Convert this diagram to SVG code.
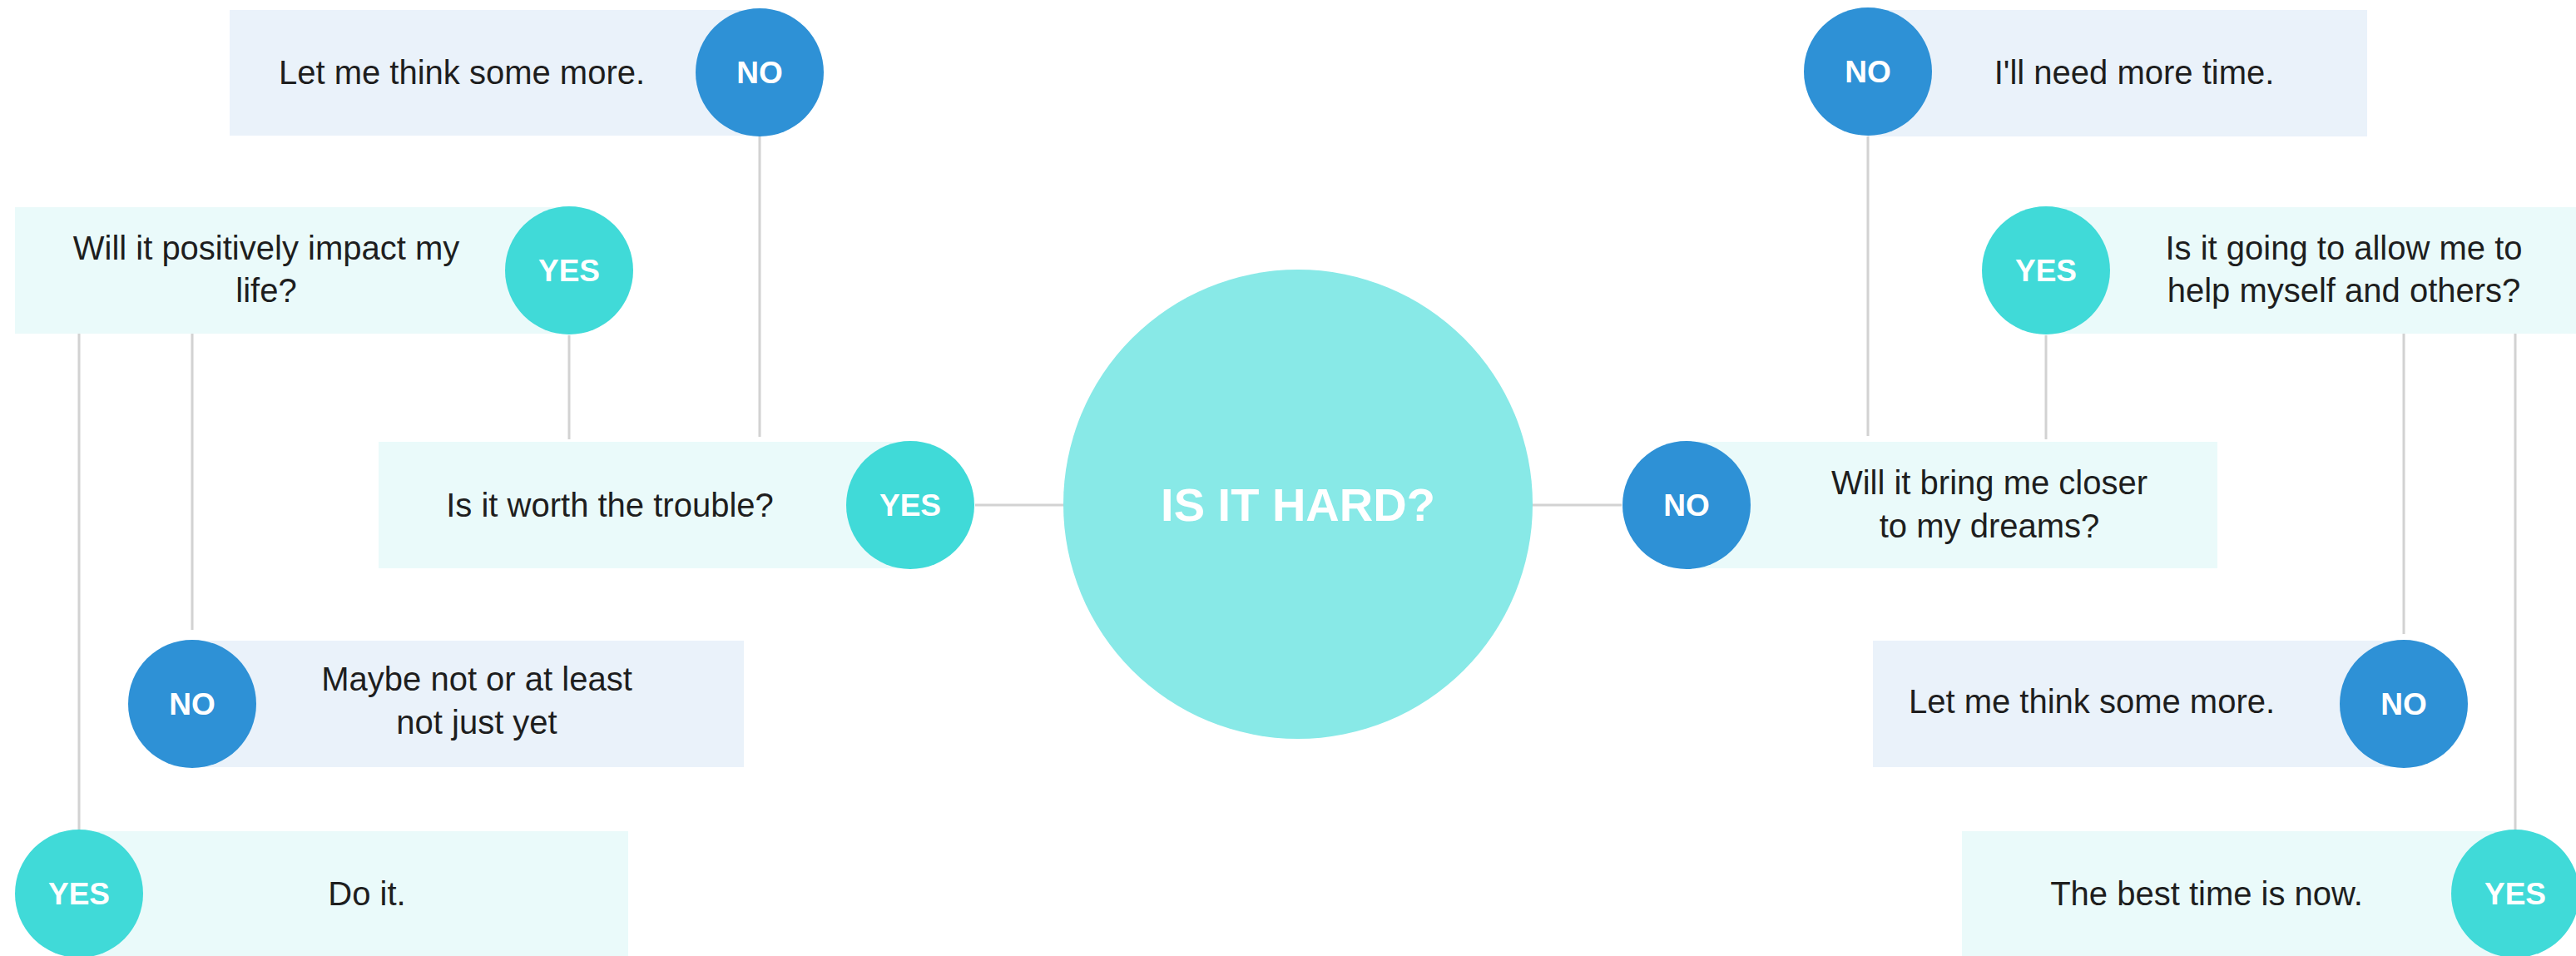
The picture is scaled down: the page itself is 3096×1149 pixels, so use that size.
<svg xmlns="http://www.w3.org/2000/svg" width="3096" height="1149" viewBox="0 0 3096 1149">
<style>
.bg{fill:#ffffff}
.boxy{fill:#EAFAFA}
.boxn{fill:#EAF2FA}
.cy{fill:#40DAD8}
.cn{fill:#2E91D6}
.hub{fill:#88E9E7}
.t{font-family:"Liberation Sans",Arial,sans-serif;font-size:40px;fill:#1E1E1E;text-anchor:middle}
.b{font-family:"Liberation Sans",Arial,sans-serif;font-size:37px;font-weight:bold;fill:#ffffff;text-anchor:middle}
.h{font-family:"Liberation Sans",Arial,sans-serif;font-size:56px;font-weight:bold;fill:#ffffff;text-anchor:middle}
.ln{stroke:#D2D2D2;stroke-width:3;fill:none}
</style>
<rect class="bg" x="0" y="0" width="3096" height="1149"/>
<g id="connectors">
<line class="ln" x1="913" y1="164" x2="913" y2="525"/>
<line class="ln" x1="684" y1="403" x2="684" y2="528"/>
<line class="ln" x1="95" y1="401" x2="95" y2="997"/>
<line class="ln" x1="231" y1="393" x2="231" y2="757"/>
<line class="ln" x1="2245" y1="164" x2="2245" y2="524"/>
<line class="ln" x1="2459" y1="403" x2="2459" y2="528"/>
<line class="ln" x1="2889" y1="393" x2="2889" y2="762"/>
<line class="ln" x1="3023" y1="401" x2="3023" y2="997"/>
<line class="ln" x1="1172" y1="607" x2="1279" y2="607"/>
<line class="ln" x1="1841" y1="607" x2="1949" y2="607"/>
</g>
<g id="hub">
<circle class="hub" cx="1560" cy="606" r="282"/>
<text class="h" x="1560" y="626">IS IT HARD?</text>
</g>
<g id="worth">
<rect class="boxy" x="455" y="531" width="639" height="152"/>
<circle class="cy" cx="1094" cy="607" r="77"/>
<text class="t" x="733" y="621">Is it worth the trouble?</text>
<text class="b" x="1094" y="620">YES</text>
</g>
<g id="think-left">
<rect class="boxn" x="276" y="12" width="637" height="151"/>
<circle class="cn" cx="913" cy="87" r="77"/>
<text class="t" x="555" y="101">Let me think some more.</text>
<text class="b" x="913" y="100">NO</text>
</g>
<g id="impact">
<rect class="boxy" x="18" y="249" width="666" height="152"/>
<circle class="cy" cx="684" cy="325" r="77"/>
<text class="t" x="320" y="312">Will it positively impact my</text>
<text class="t" x="320" y="363">life?</text>
<text class="b" x="684" y="338">YES</text>
</g>
<g id="maybe">
<rect class="boxn" x="230" y="770" width="664" height="152"/>
<circle class="cn" cx="231" cy="846" r="77"/>
<text class="t" x="573" y="830">Maybe not or at least</text>
<text class="t" x="573" y="882">not just yet</text>
<text class="b" x="231" y="859">NO</text>
</g>
<g id="doit">
<rect class="boxy" x="95" y="999" width="660" height="150"/>
<circle class="cy" cx="95" cy="1074" r="77"/>
<text class="t" x="441" y="1088">Do it.</text>
<text class="b" x="95" y="1087">YES</text>
</g>
<g id="dreams">
<rect class="boxy" x="2026" y="531" width="639" height="152"/>
<circle class="cn" cx="2027" cy="607" r="77"/>
<text class="t" x="2391" y="594">Will it bring me closer</text>
<text class="t" x="2391" y="646">to my dreams?</text>
<text class="b" x="2027" y="620">NO</text>
</g>
<g id="needtime">
<rect class="boxn" x="2245" y="12" width="600" height="152"/>
<circle class="cn" cx="2245" cy="86" r="77"/>
<text class="t" x="2565" y="101">I'll need more time.</text>
<text class="b" x="2245" y="99">NO</text>
</g>
<g id="allow">
<rect class="boxy" x="2459" y="249" width="637" height="152"/>
<circle class="cy" cx="2459" cy="325" r="77"/>
<text class="t" x="2817" y="312">Is it going to allow me to</text>
<text class="t" x="2817" y="363">help myself and others?</text>
<text class="b" x="2459" y="338">YES</text>
</g>
<g id="think-right">
<rect class="boxn" x="2251" y="770" width="637" height="152"/>
<circle class="cn" cx="2889" cy="846" r="77"/>
<text class="t" x="2514" y="857">Let me think some more.</text>
<text class="b" x="2889" y="859">NO</text>
</g>
<g id="besttime">
<rect class="boxy" x="2358" y="999" width="665" height="150"/>
<circle class="cy" cx="3023" cy="1074" r="77"/>
<text class="t" x="2652" y="1088">The best time is now.</text>
<text class="b" x="3023" y="1087">YES</text>
</g>
</svg>
